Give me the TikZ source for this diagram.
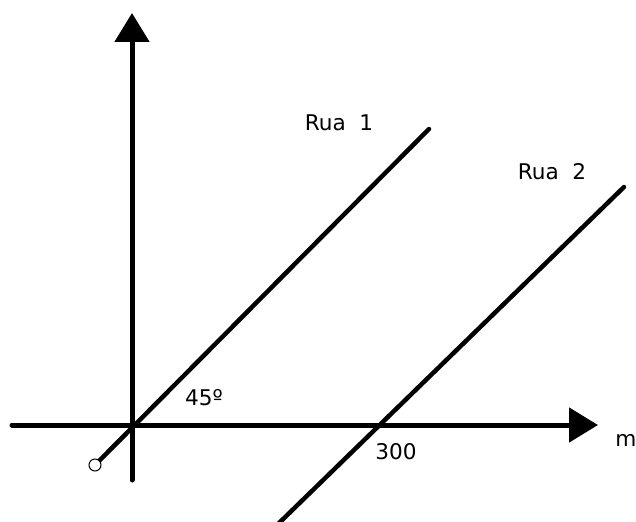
\documentclass[tikz,border=0pt]{standalone}
\usepackage{fontspec}
\setmainfont{DejaVu Sans}
\usetikzlibrary{arrows.meta}
\tikzset{
  axisline/.style={line width=0.1cm,line cap=round,-{Triangle[length=0.58cm,width=0.68cm]}},
  rualine/.style={line width=0.09cm,line cap=round},
  lbl/.style={inner sep=0pt,font=\fontsize{12.3}{15}\selectfont}
}
\begin{document}
\begin{tikzpicture}[x=0.02cm,y=-0.02cm]
\useasboundingbox (0,0) rectangle (636,521);
\coordinate (xl) at (12,425);
\coordinate (xr) at (598,425);
\coordinate (yb) at (132,480);
\coordinate (yt) at (132,13);
\coordinate (r1a) at (95,465);
\coordinate (r1b) at (429,129);
\coordinate (r2a) at (277,525);
\coordinate (r2b) at (624,187);
\node[lbl] (rua1) at (339,123) {Rua\ \ 1};
\node[lbl] (rua2) at (552,172) {Rua\ \ 2};
\node[lbl] (ang) at (204,398) {45º};
\node[lbl] (dist) at (396,452) {300};
\node[lbl] (unit) at (626,440) {m};
\draw[axisline] (xl) -- (xr);
\draw[axisline] (yb) -- (yt);
\draw[rualine] (r1a) -- (r1b);
\draw[rualine] (r2a) -- (r2b);
\draw[line width=0.02cm,fill=white] (r1a) circle (6);
\end{tikzpicture}
\end{document}
